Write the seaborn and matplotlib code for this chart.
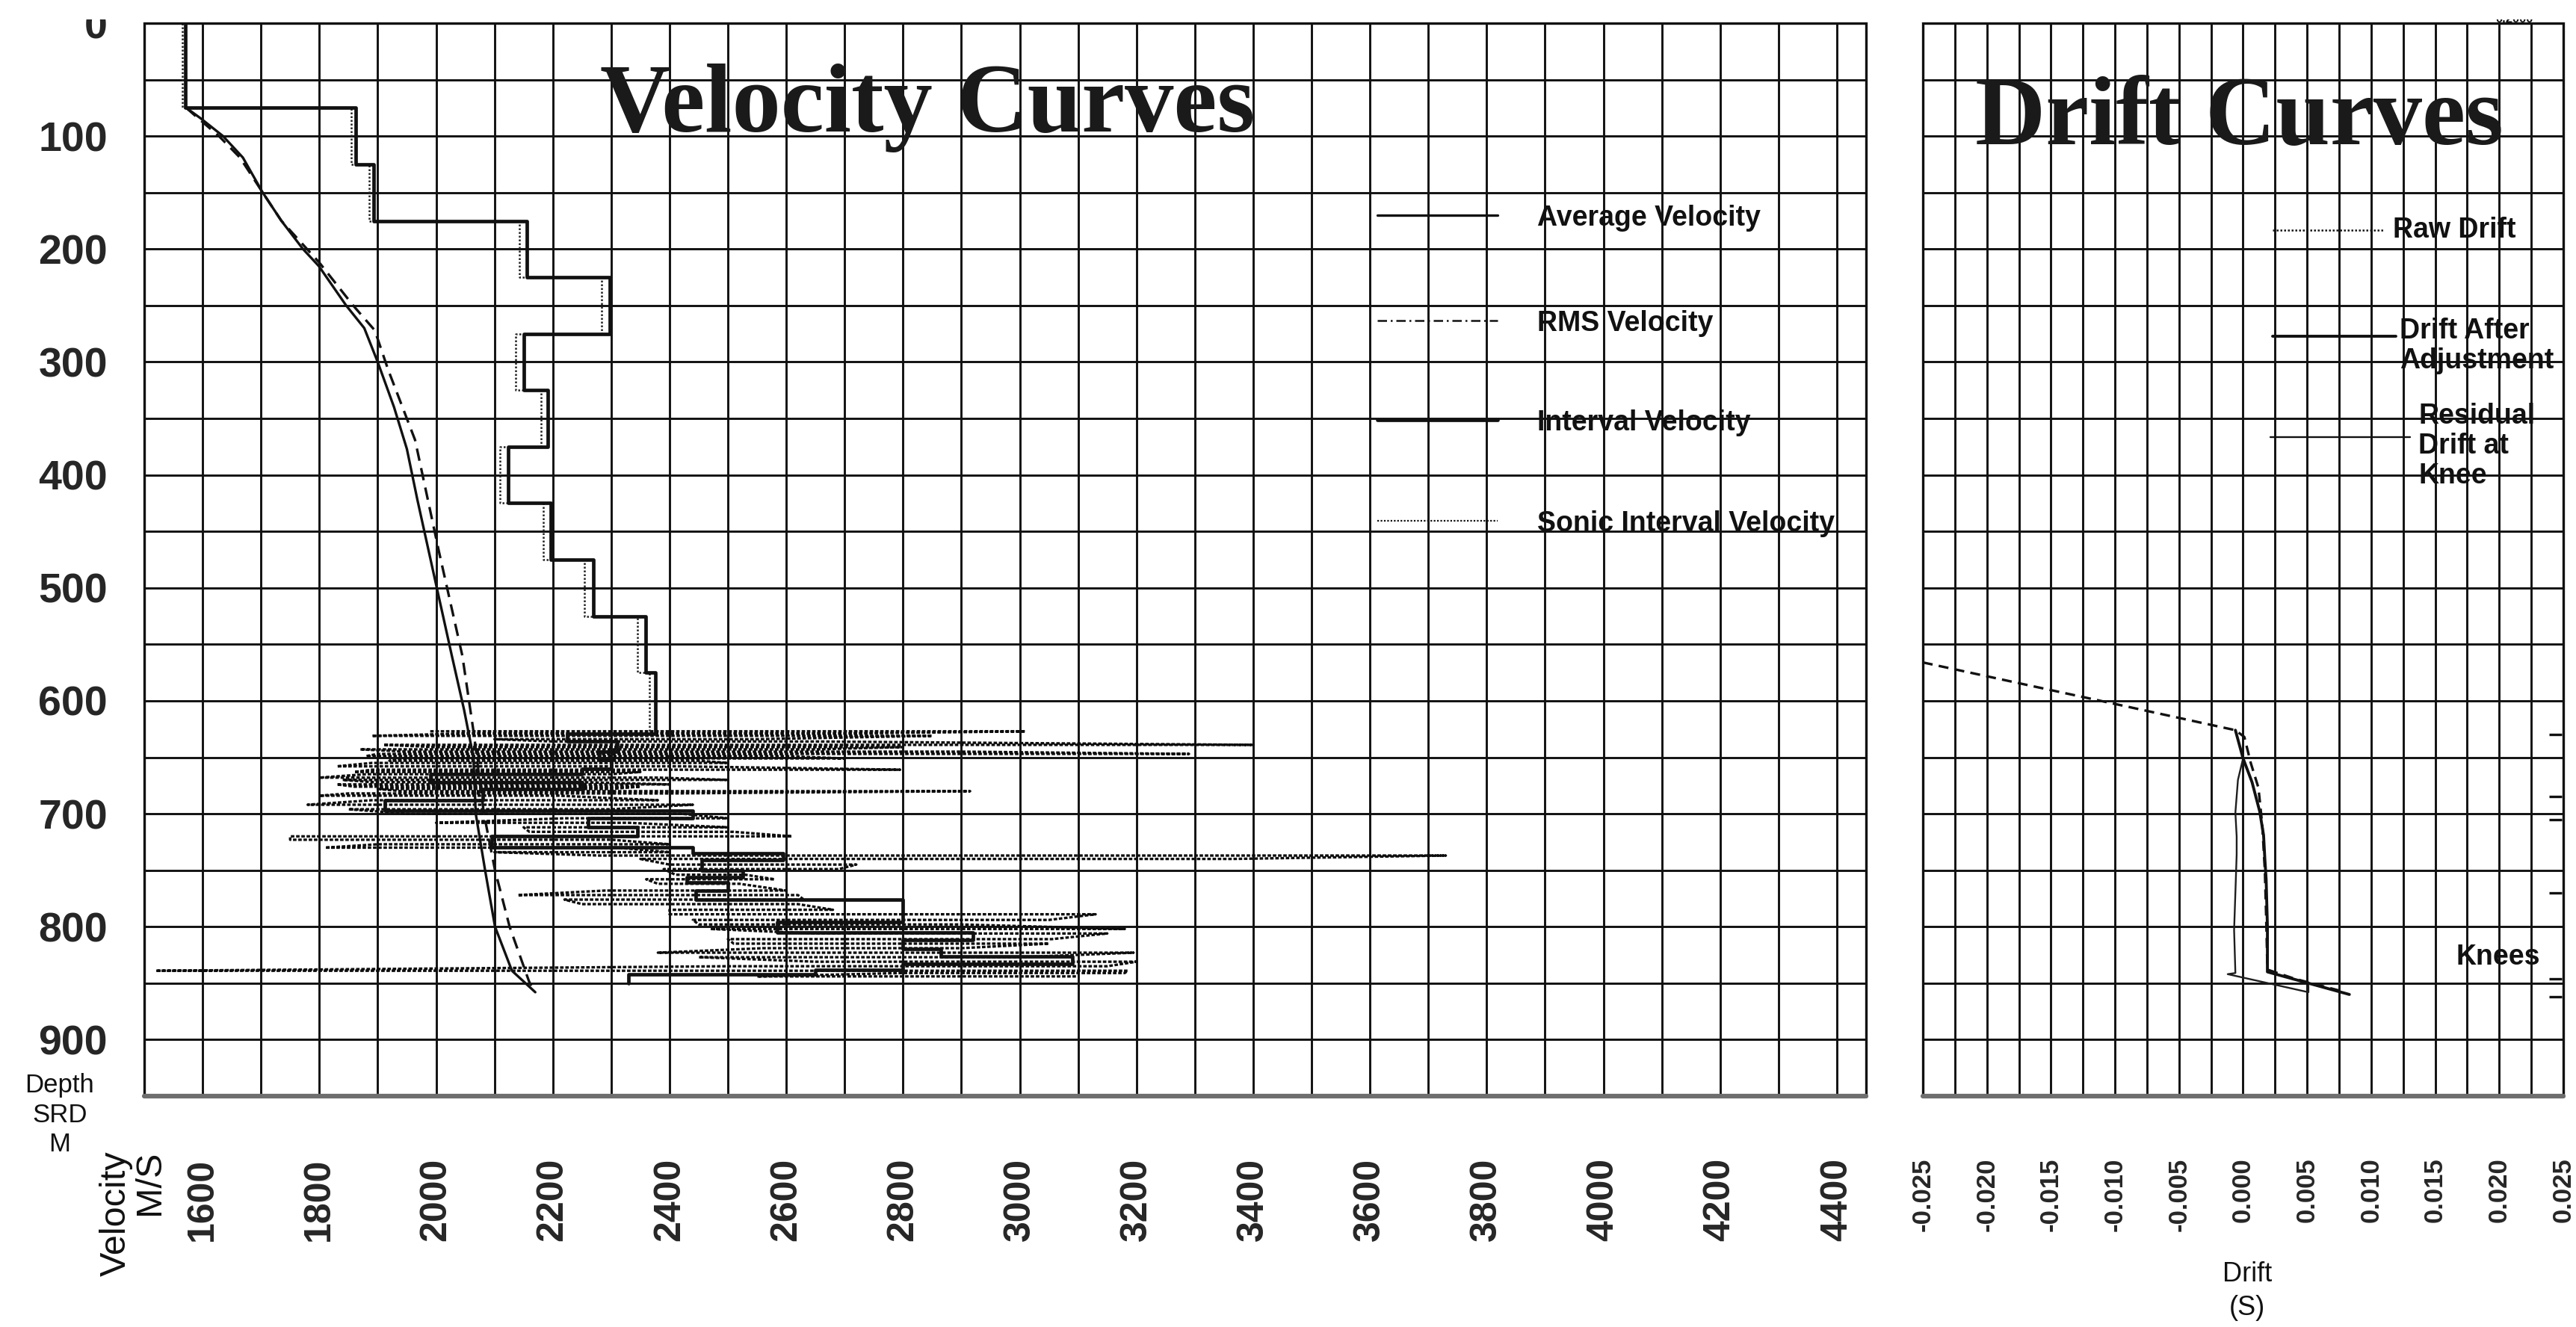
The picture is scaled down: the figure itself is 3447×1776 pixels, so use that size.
"""
    Checkshot survey: velocity curves and drift curves against depth.
"""

import pandas as pd
import matplotlib
matplotlib.use('Agg')
import matplotlib.pyplot as plt
import matplotlib.ticker as mtick
import matplotlib.patches as mpatches
import seaborn as sns

# ---------------- Data ----------------
# Interval velocity, blocky: depth of the top of each block (m), velocity (m/s)
interval_depth = [0, 75, 125, 175, 225, 275, 325, 375, 425, 475, 525, 575, 629, 636, 645,
                  652, 660, 665, 672, 678, 688, 697, 704, 712, 720, 730, 735, 741, 750,
                  756, 761, 768, 776, 796, 805, 812, 820, 826, 833, 838, 842, 850]
interval_vel = [1570, 1862, 1893, 2155, 2298, 2150, 2192, 2123, 2197, 2270, 2359, 2376, 2225,
                2310, 2280, 2300, 2250, 1990, 2250, 2080, 1912, 2440, 2260, 2345, 2095, 2440,
                2595, 2455, 2525, 2430, 2500, 2445, 2800, 2585, 2920, 2800, 2865, 3090, 2800,
                2650, 2330, 2330]

# Thin dotted blocky curve printed just beside the interval velocity
interval_raw_depth = [0, 75, 125, 175, 225, 275, 325, 375, 425, 475, 525, 575, 629]
interval_raw_vel = [1565, 1855, 1886, 2143, 2284, 2136, 2180, 2110, 2184, 2254, 2345, 2366, 2366]

# Average velocity
avg_depth = [75, 84, 100, 119, 150, 175, 200, 215, 250, 270, 300, 340, 377, 422, 497, 560,
             608, 650, 700, 750, 800, 839, 858]
avg_vel = [1572, 1596, 1635, 1669, 1703, 1735, 1772, 1799, 1846, 1877, 1900, 1928, 1950, 1968,
           2000, 2027, 2048, 2064, 2068, 2084, 2101, 2130, 2170]

# RMS velocity
rms_depth = [75, 84, 100, 119, 150, 175, 212, 250, 272, 307, 369, 468, 560, 630, 700, 750,
             800, 848, 858]
rms_vel = [1572, 1592, 1628, 1664, 1703, 1735, 1800, 1858, 1895, 1918, 1964, 2005, 2045, 2065,
           2082, 2101, 2126, 2159, 2168]

# Sonic interval velocity: one swing per depth sample, between a low and a high value
sonic_depth = [627, 629, 631, 634, 636, 639, 641, 643, 645, 647, 649, 651, 653, 655, 658, 661,
               663, 665, 668, 670, 672, 674, 676, 678, 680, 682, 684, 688, 692, 696, 700, 704,
               708, 712, 716, 720, 723, 727, 730, 734, 737, 740, 745, 749, 754, 758, 762, 768,
               772, 776, 780, 785, 789, 794, 798, 802, 806, 811, 815, 819, 823, 827, 831, 835,
               839, 841, 844]
sonic_low = [1990, 2050, 1890, 2100, 2200, 1910, 2000, 1870, 1950, 1900, 1880, 1950, 1920, 1890,
             1830, 1890, 1860, 1880, 1800, 1840, 1890, 1830, 1860, 1900, 1940, 1850, 1800, 1890,
             1780, 1850, 1950, 2220, 2000, 2150, 2160, 1750, 1750, 1900, 1810, 2100, 2280, 2350,
             2400, 2390, 2410, 2360, 2380, 2290, 2140, 2220, 2250, 2400, 2400, 2440, 2450, 2470,
             2650, 2500, 2510, 2560, 2380, 2450, 2650, 2500, 1520, 2800, 2550]
sonic_high = [3010, 2700, 2850, 2550, 2650, 3400, 2800, 2650, 2900, 3290, 2600, 2700, 2450, 2500,
              2420, 2795, 2350, 2300, 2380, 2500, 2250, 2400, 2350, 2300, 2915, 2400, 2210, 2380,
              2440, 2300, 2420, 2500, 2330, 2500, 2510, 2610, 2300, 2400, 2310, 2400, 3730, 3365,
              2720, 2690, 2530, 2580, 2520, 2600, 2620, 2630, 2620, 2680, 3130, 3050, 2900, 3180,
              3150, 3055, 3050, 2900, 3195, 3000, 3200, 3150, 3185, 3180, 3100]

# Drift curves (s)
raw_drift_depth = [566, 604, 626, 632, 655, 677, 710, 750, 790, 838, 846, 858]
raw_drift = [-0.025, -0.0095, -0.0006, 0.0001, 0.0006, 0.0012, 0.0015, 0.0017, 0.0018, 0.0019,
             0.0040, 0.0080]
adj_drift_depth = [626, 651, 672, 698, 719, 740, 758, 800, 840, 860]
adj_drift = [-0.0006, 0.0000, 0.0007, 0.0013, 0.0016, 0.0017, 0.0018, 0.0019, 0.0019, 0.0083]
res_drift_depth = [651, 670, 699, 720, 736, 770, 803, 841, 842, 858, 852]
res_drift = [0.0000, -0.0004, -0.0006, -0.0005, -0.0005, -0.0006, -0.0007, -0.0006, -0.0012,
             0.0051, 0.0051]

# Knee depths marked on the right edge of the drift track
knee_depth = [630, 685, 705, 770, 846, 862]

# Axis ticks
vel_ticks = [1600, 1800, 2000, 2200, 2400, 2600, 2800, 3000, 3200, 3400, 3600, 3800, 4000,
             4200, 4400]
depth_ticks = [0, 100, 200, 300, 400, 500, 600, 700, 800, 900]
drift_ticks = [-0.025, -0.020, -0.015, -0.010, -0.005, 0.000, 0.005, 0.010, 0.015, 0.020, 0.025]

# ---------------- Style ----------------
sns.set_style("white")
plt.rcParams['font.family'] = ['Liberation Sans', 'DejaVu Sans']
plt.rcParams['axes.unicode_minus'] = False

INK = '#111111'
GRID_LW = 2.1
SERIF = ['Liberation Serif', 'DejaVu Serif']

W, H = 3448, 1776
TOP, BOTTOM = 31, 1467


def fig_box(left_px, right_px):
    return [left_px / W, 1 - BOTTOM / H, (right_px - left_px) / W, (BOTTOM - TOP) / H]


fig = plt.figure(figsize=(W / 100, H / 100), dpi=100)
fig.patch.set_facecolor('white')
ax = fig.add_axes(fig_box(193, 2497))
ax2 = fig.add_axes(fig_box(2573, 3430))


def style_track(a):
    a.set_ylim(950, 0)
    a.set_axisbelow(True)
    a.grid(True, which='both', color=INK, linewidth=GRID_LW)
    for s in a.spines.values():
        s.set_visible(False)
    # ticks sit apart from the frame, as on the print
    a.spines['left'].set_position(('outward', 13.7))
    a.spines['bottom'].set_position(('outward', 29.5))
    a.add_patch(mpatches.Rectangle((0, 0), 1, 1, transform=a.transAxes, fill=False,
                                   edgecolor=INK, linewidth=2.4, clip_on=False, zorder=3))
    a.plot([0, 1], [0, 0], transform=a.transAxes, color='#6e6e6e', linewidth=4.5,
           clip_on=False, zorder=3)
    a.set_xlabel('')
    a.set_ylabel('')


# ---------------- Velocity track ----------------
sonic_x, sonic_y = [], []
for i, (d, lo, hi) in enumerate(zip(sonic_depth, sonic_low, sonic_high)):
    sonic_x += [lo, hi] if i % 2 == 0 else [hi, lo]
    sonic_y += [d, d]
sonic = pd.DataFrame({'vel': sonic_x, 'depth': sonic_y})

sns.lineplot(data=sonic, x='vel', y='depth', sort=False, estimator=None, color='#0d0d0d',
             linewidth=2.4, linestyle=(0, (1.4, 0.7)), ax=ax)
sns.lineplot(x=interval_raw_vel, y=interval_raw_depth, sort=False, estimator=None,
             drawstyle='steps-pre', color='#222222', linewidth=1.8, linestyle=(0, (1, 1)), ax=ax)
sns.lineplot(x=interval_vel, y=interval_depth, sort=False, estimator=None,
             drawstyle='steps-pre', color=INK, linewidth=3.4, ax=ax)
sns.lineplot(x=avg_vel, y=avg_depth, sort=False, estimator=None, color=INK, linewidth=2.4, ax=ax)
sns.lineplot(x=rms_vel, y=rms_depth, sort=False, estimator=None, color=INK, linewidth=2.4,
             linestyle=(0, (5, 3)), ax=ax)

ax.set_xlim(1500, 4450)
style_track(ax)
ax.set_xticks(vel_ticks, labels=[str(v) for v in vel_ticks], fontsize=36, fontweight='bold',
              rotation=90)
ax.set_yticks(depth_ticks, labels=[str(d) for d in depth_ticks], fontsize=40,
              fontweight='bold')
ax.xaxis.set_minor_locator(mtick.MultipleLocator(100))
ax.yaxis.set_minor_locator(mtick.MultipleLocator(50))
ax.tick_params(axis='x', which='major', direction='out', length=15, width=2.2, pad=15, color=INK)
ax.tick_params(axis='x', which='minor', direction='out', length=8, width=2.2, color=INK)
ax.tick_params(axis='y', which='major', direction='out', length=13.7, width=2.2, pad=8, color=INK)
ax.tick_params(axis='y', which='minor', direction='out', length=6.5, width=2.2, color=INK)
ax.tick_params(top=False, right=False)

ax.text(0.455, 0.899, 'Velocity Curves', transform=ax.transAxes, ha='center', va='baseline',
        fontsize=94, fontweight='bold', family=SERIF, color='#1a1a1a', zorder=4)

# legend drawn in the grid, as on the print
vel_keys = [
    ('Average Velocity', 0.821, dict(linestyle='-', linewidth=2.4)),
    ('RMS Velocity', 0.723, dict(linestyle=(0, (5, 2, 1, 2)), linewidth=1.8)),
    ('Interval Velocity', 0.630, dict(linestyle='-', linewidth=3.4)),
    ('Sonic Interval Velocity', 0.536, dict(linestyle=(0, (1, 1)), linewidth=1.6)),
]
for label, y, kw in vel_keys:
    ax.plot([0.716, 0.786], [y, y], transform=ax.transAxes, color=INK, zorder=4, **kw)
    ax.text(0.809, y, label, transform=ax.transAxes, ha='left', va='center_baseline',
            fontsize=27, fontweight='bold', color=INK, zorder=4)

# ---------------- Drift track ----------------
sns.lineplot(x=raw_drift, y=raw_drift_depth, sort=False, estimator=None, color=INK,
             linewidth=2.4, linestyle=(0, (4, 2.5)), ax=ax2)
sns.lineplot(x=res_drift, y=res_drift_depth, sort=False, estimator=None, color='#1e1e1e',
             linewidth=1.7, ax=ax2)
sns.lineplot(x=adj_drift, y=adj_drift_depth, sort=False, estimator=None, color=INK,
             linewidth=2.8, ax=ax2)
ax2.hlines(knee_depth, 0.978, 0.998, transform=ax2.get_yaxis_transform(), color=INK,
           linewidth=2.4, zorder=4)

ax2.set_xlim(-0.025, 0.025)
style_track(ax2)
ax2.set_xticks(drift_ticks, labels=[f'{t:.3f}' for t in drift_ticks], fontsize=25,
               fontweight='bold', rotation=90)
ax2.set_yticks(depth_ticks)
ax2.xaxis.set_minor_locator(mtick.MultipleLocator(0.0025))
ax2.yaxis.set_minor_locator(mtick.MultipleLocator(50))
ax2.tick_params(axis='x', which='major', direction='out', length=15, width=2.2, pad=15, color=INK)
ax2.tick_params(axis='x', which='minor', direction='out', length=8, width=2.2, color=INK)
ax2.tick_params(axis='y', which='both', length=0, labelleft=False)
ax2.tick_params(top=False, right=False)

ax2.text(0.494, 0.887, 'Drift Curves', transform=ax2.transAxes, ha='center', va='baseline',
         fontsize=94, fontweight='bold', family=SERIF, color='#1a1a1a', zorder=4)

drift_keys = [
    ('Raw Drift', 0.546, 0.719, 0.807, 0.734, 0.807, dict(linestyle=(0, (1, 1)), linewidth=1.8)),
    ('Drift After\nAdjustment', 0.546, 0.739, 0.708, 0.744, 0.699,
     dict(linestyle='-', linewidth=2.8)),
    ('Residual\nDrift at\nKnee', 0.543, 0.761, 0.614, 0.774, 0.606,
     dict(linestyle='-', linewidth=1.7)),
]
for label, x0, x1, y, tx, ty, kw in drift_keys:
    ax2.plot([x0, x1], [y, y], transform=ax2.transAxes, color=INK, zorder=4, **kw)
    ax2.text(tx, ty, label, transform=ax2.transAxes, ha='left', va='center', fontsize=27,
             fontweight='bold', color=INK, linespacing=1.15, zorder=4)
ax2.text(0.832, 0.132, 'Knees', transform=ax2.transAxes, ha='left', va='center_baseline',
         fontsize=27, fontweight='bold', color=INK, zorder=4)

# ---------------- Axis captions ----------------
fig.text(80 / W, 1 - 1492 / H, 'Depth\nSRD\nM', ha='center', va='center', fontsize=25,
         linespacing=1.25, color=INK)
fig.text(178 / W, 1 - 1540 / H, 'Velocity\nM/S', ha='center', va='top', rotation=90,
         multialignment='right', fontsize=35, linespacing=1.0, color=INK)
fig.text(3007 / W, 1 - 1728 / H, 'Drift\n(S)', ha='center', va='center', fontsize=26,
         linespacing=1.35, color=INK)
fig.text(3365 / W, 1 - 33 / H, '0.2000', ha='center', va='bottom', fontsize=12,
         fontweight='bold', color=INK, zorder=5)

# the print is cut just above the top frame
fig.patches.append(mpatches.Rectangle((0, 1 - 26 / H), 1, 26 / H, transform=fig.transFigure,
                                      facecolor='white', edgecolor='none', zorder=10))

fig.savefig('out.png', dpi=100, facecolor='white')
plt.close(fig)
